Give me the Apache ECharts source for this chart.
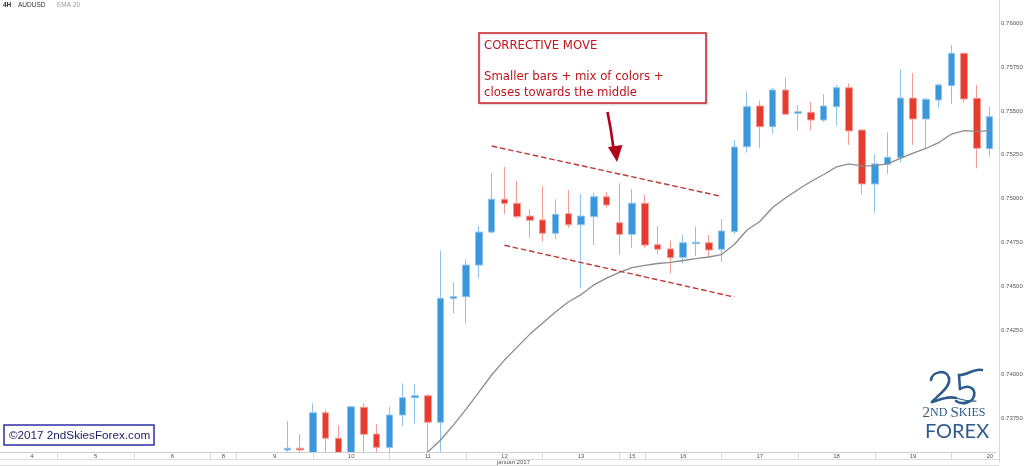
<!DOCTYPE html>
<html><head><meta charset="utf-8">
<script src="https://cdn.jsdelivr.net/npm/echarts@6/dist/echarts.min.js"></script>
<style>html,body{margin:0;padding:0;background:#fff}#c{width:1024px;height:466px}</style>
</head><body><div id="c"></div>
<script>
// ---------------- data ----------------
const dayNames = ['4','5','6','8','9','10','11','12','13','15','16','17','18','19','20'];
const dayBarCounts = [6,6,6,2,6,6,6,6,6,2,6,6,6,6,6];
const firstDayStartSlot = -2;
const slotCount = 78;
const monthLabel = 'januari 2017';
const yTickStep = 0.0025;

const firstCandleSlot = 22;
const opens = [0.73569,0.73579,0.73520,0.73781,0.73636,0.73520,0.73812,0.73660,0.73584,0.73768,
  0.73867,0.73878,0.73727,0.74431,0.74442,0.74622,0.74810,0.74997,0.74974,0.74901,
  0.74879,0.74803,0.74915,0.74852,0.74898,0.75011,0.74863,0.74797,0.74974,0.74738,
  0.74714,0.74666,0.74744,0.74749,0.74712,0.74812,0.75296,0.75528,0.75410,0.75619,
  0.75486,0.75492,0.75448,0.75524,0.75632,0.75391,0.75084,0.75196,0.75234,0.75573,
  0.75454,0.75562,0.75644,0.75828,0.75572,0.75285];
const closes = [0.73579,0.73569,0.73781,0.73636,0.73520,0.73815,0.73658,0.73584,0.73768,0.73867,
  0.73878,0.73727,0.74433,0.74442,0.74622,0.74810,0.74997,0.74972,0.74898,0.74877,
  0.74803,0.74911,0.74852,0.74901,0.75011,0.74964,0.74797,0.74974,0.74736,0.74712,
  0.74664,0.74749,0.74752,0.74708,0.74816,0.75294,0.75524,0.75410,0.75619,0.75481,
  0.75495,0.75448,0.75528,0.75632,0.75386,0.75084,0.75198,0.75236,0.75573,0.75454,
  0.75566,0.75648,0.75828,0.75568,0.75287,0.75467];
const lows = [0.7351,0.7351,0.7351,0.7351,0.7351,0.7351,0.7351,0.7351,0.7355,0.73706,
  0.73721,0.7351,0.7351,0.74347,0.74290,0.74550,0.74803,0.74913,0.74888,0.74778,
  0.74755,0.74769,0.74835,0.74490,0.74736,0.74949,0.74679,0.74721,0.74721,0.74683,
  0.74575,0.74632,0.74674,0.74666,0.74638,0.74799,0.75262,0.75290,0.75372,0.75478,
  0.75391,0.75387,0.75439,0.75416,0.75306,0.75027,0.74920,0.75141,0.75205,0.75306,
  0.75287,0.75518,0.75539,0.75547,0.75173,0.75239];
const highs = [0.73734,0.73658,0.73835,0.73797,0.73711,0.73821,0.73835,0.73717,0.73815,0.73949,
  0.73945,0.73888,0.74704,0.74527,0.74655,0.74845,0.75145,0.75182,0.75101,0.74940,
  0.75072,0.74997,0.75050,0.75027,0.75034,0.75038,0.75088,0.75054,0.75021,0.74845,
  0.74761,0.74793,0.74841,0.74793,0.74884,0.75334,0.75609,0.75558,0.75632,0.75689,
  0.75534,0.75552,0.75595,0.75648,0.75657,0.75395,0.75253,0.75378,0.75737,0.75714,
  0.75575,0.75657,0.75875,0.75830,0.75648,0.75524];

const emaFirstSlot = 32;
const ema20 = [0.73478,0.73557,0.73626,0.73711,0.73802,0.73899,0.73996,0.74081,0.74155,0.74229,
  0.74292,0.74355,0.74412,0.74454,0.74509,0.74548,0.74580,0.74608,0.74620,0.74631,
  0.74637,0.74648,0.74659,0.74668,0.74682,0.74739,0.74822,0.74870,0.74950,0.75004,
  0.75052,0.75098,0.75138,0.75181,0.75198,0.75186,0.75188,0.75198,0.75230,0.75259,
  0.75286,0.75319,0.75368,0.75388,0.75383,0.75388];

const upperTrend = [[38, 0.75300], [56, 0.75013]];
const lowerTrend = [[39, 0.74735], [57, 0.74440]];

// ---------------- build ----------------
const categories = [];
const tickSlots = new Set();
const labelSlots = new Map();
let start = firstDayStartSlot;
dayNames.forEach((d, j) => {
  const n = dayBarCounts[j];
  for (let k = 0; k < n; k++) { const s = start + k; if (s >= 0 && s < slotCount) categories[s] = d + '/' + k; }
  if (start >= 0 && start < slotCount) tickSlots.add(start);
  labelSlots.set(Math.round((Math.max(start, 0) + start + n) / 2), d);
  start += n;
});

const candleData = opens.map((o, i) => [firstCandleSlot + i, o, closes[i], lows[i], highs[i]]);
const emaData = ema20.map((v, i) => [emaFirstSlot + i, v]);

const chart = echarts.init(document.getElementById('c'), null, {renderer: 'canvas'});
const red = '#c0141c';
const blueLogo = '#2d5b8c';
const logoStroke = {stroke: blueLogo, lineWidth: 2.6, fill: null, lineCap: 'round'};
function bez(x1, y1, cx1, cy1, cx2, cy2, x2, y2, w) {
  return {type: 'bezierCurve', z: 20, shape: {x1, y1, cpx1: cx1, cpy1: cy1, cpx2: cx2, cpy2: cy2, x2, y2},
    style: Object.assign({}, logoStroke, w ? {lineWidth: w} : {})};
}

chart.setOption({
  animation: false,
  backgroundColor: '#ffffff',
  grid: {left: 0, right: 27.9, top: -20.8, bottom: 3.9, containLabel: false, outerBoundsMode: 'none'},
  xAxis: {
    type: 'category', data: categories, boundaryGap: true, offset: -10.1, z: 10,
    axisLine: {onZero: false, lineStyle: {color: '#cfcfcf', width: 1}},
    axisTick: {show: true, alignWithLabel: true, length: 7, interval: (idx) => tickSlots.has(idx), lineStyle: {color: '#d8d8d8'}},
    axisLabel: {interval: (idx) => labelSlots.has(idx), formatter: (v, idx) => labelSlots.get(idx) || '',
      fontSize: 6, color: '#555', margin: 1.5, fontFamily: 'Liberation Sans'},
    splitLine: {show: false}
  },
  yAxis: {
    type: 'value', position: 'right', offset: 3, min: 0.735, max: 0.7625, interval: yTickStep,
    axisLine: {show: true, lineStyle: {color: '#d6d6d6'}},
    axisTick: {show: false},
    splitLine: {show: false},
    axisLabel: {formatter: (v) => v.toFixed(5), fontSize: 6, color: '#555', margin: 2,
      fontFamily: 'Liberation Sans', showMinLabel: false, showMaxLabel: false}
  },
  series: [
    {
      type: 'candlestick', data: candleData, encode: {x: 0, y: [1, 2, 3, 4]}, barWidth: 7, z: 2,
      itemStyle: {color: '#3a97dc', color0: '#e63c30', borderColor: '#8cc2ec', borderColor0: '#f29c95', borderWidth: 1},
      markLine: {
        silent: true, symbol: ['none', 'none'], label: {show: false},
        lineStyle: {color: '#bd3a36', width: 1.4, type: 'dashed', dashOffset: 0},
        data: [
          [{coord: upperTrend[0]}, {coord: upperTrend[1]}],
          [{coord: lowerTrend[0]}, {coord: lowerTrend[1]}]
        ]
      }
    },
    {
      type: 'line', data: emaData, showSymbol: false, symbol: 'none', z: 3,
      lineStyle: {color: '#8c8c8c', width: 1.3}
    }
  ],
  graphic: [
    {type: 'rect', z: 5, shape: {x: 0, y: 452.5, width: 998.6, height: 14}, style: {fill: '#ffffff'}},
    {type: 'line', z: 11, shape: {x1: 0, y1: 459.5, x2: 999, y2: 459.5}, style: {stroke: '#dcdcdc', lineWidth: 1}},
    {type: 'line', z: 11, shape: {x1: 0, y1: 465.5, x2: 999, y2: 465.5}, style: {stroke: '#dcdcdc', lineWidth: 1}},
    {type: 'text', z: 11, x: 497, y: 462.8, style: {text: monthLabel, fontSize: 6, fill: '#555', fontFamily: 'Liberation Sans', verticalAlign: 'middle'}},
    {type: 'text', z: 11, x: 3, y: 5.5, style: {text: '4H', fontSize: 6.5, fontWeight: 'bold', fill: '#333', fontFamily: 'Liberation Sans', verticalAlign: 'middle'}},
    {type: 'text', z: 11, x: 18, y: 5.5, style: {text: 'AUDUSD', fontSize: 6.5, fill: '#333', fontFamily: 'Liberation Sans', verticalAlign: 'middle'}},
    {type: 'text', z: 11, x: 57, y: 5.5, style: {text: 'EMA 20', fontSize: 6.5, fill: '#999', fontFamily: 'Liberation Sans', verticalAlign: 'middle'}},
    {type: 'rect', z: 20, shape: {x: 479, y: 33, width: 227, height: 70}, style: {fill: '#fff', stroke: '#c7202b', lineWidth: 1.5, shadowBlur: 2, shadowColor: 'rgba(0,0,0,0.15)', shadowOffsetX: 1, shadowOffsetY: 1}},
    {type: 'text', z: 21, x: 484, y: 45.5, style: {text: 'CORRECTIVE MOVE', fontSize: 13, fill: red, fontFamily: 'DejaVu Sans Condensed', verticalAlign: 'middle'}},
    {type: 'text', z: 21, x: 484, y: 76.7, style: {text: 'Smaller bars + mix of colors +', fontSize: 13, fill: red, fontFamily: 'DejaVu Sans Condensed', verticalAlign: 'middle'}},
    {type: 'text', z: 21, x: 484, y: 92.7, style: {text: 'closes towards the middle', fontSize: 13, fill: red, fontFamily: 'DejaVu Sans Condensed', verticalAlign: 'middle'}},
    {type: 'polyline', z: 20, shape: {points: [[607.5, 112], [610.5, 128], [613.5, 148]]}, style: {stroke: '#b3001b', lineWidth: 2.6, fill: null}},
    {type: 'polygon', z: 20, shape: {points: [[608, 147], [622.5, 145], [617, 162]]}, style: {fill: '#b3001b'}},
    {type: 'rect', z: 20, shape: {x: 4, y: 425, width: 150, height: 20}, style: {fill: '#fff', stroke: '#2f2fa8', lineWidth: 1.5}},
    {type: 'text', z: 21, x: 9, y: 435.5, style: {text: '©2017 2ndSkiesForex.com', fontSize: 11.7, fill: '#1c1c6b', fontFamily: 'Liberation Sans', verticalAlign: 'middle'}},
    // logo "25"
    bez(931, 380, 932, 371, 947, 369, 949, 378),
    bez(949, 378, 951, 387, 938, 395, 932, 402),
    bez(932, 402, 941, 399, 949, 396, 956, 398),
    bez(956, 398, 963, 400, 968, 402, 976, 401, 1.2),
    bez(959, 375, 966, 376, 974, 368, 982, 370),
    {type: 'line', z: 20, shape: {x1: 959, y1: 375, x2: 960, y2: 389}, style: logoStroke},
    bez(960, 389, 968, 384, 976, 388, 974, 396),
    bez(974, 396, 972, 403, 962, 405, 956, 401),
    {type: 'text', z: 20, x: 954, y: 413, style: {text: '{a|2}{b|ND }{a|S}{b|KIES}', align: 'center', verticalAlign: 'middle',
      rich: {a: {fontSize: 15, fill: blueLogo, fontFamily: 'Liberation Serif'}, b: {fontSize: 12, fill: blueLogo, fontFamily: 'Liberation Serif'}}}},
    {type: 'text', z: 20, x: 957, y: 432, style: {text: 'FOREX', fontSize: 20, fill: blueLogo, fontFamily: 'Lato', align: 'center', verticalAlign: 'middle'}}
  ]
});
</script>
</body></html>
